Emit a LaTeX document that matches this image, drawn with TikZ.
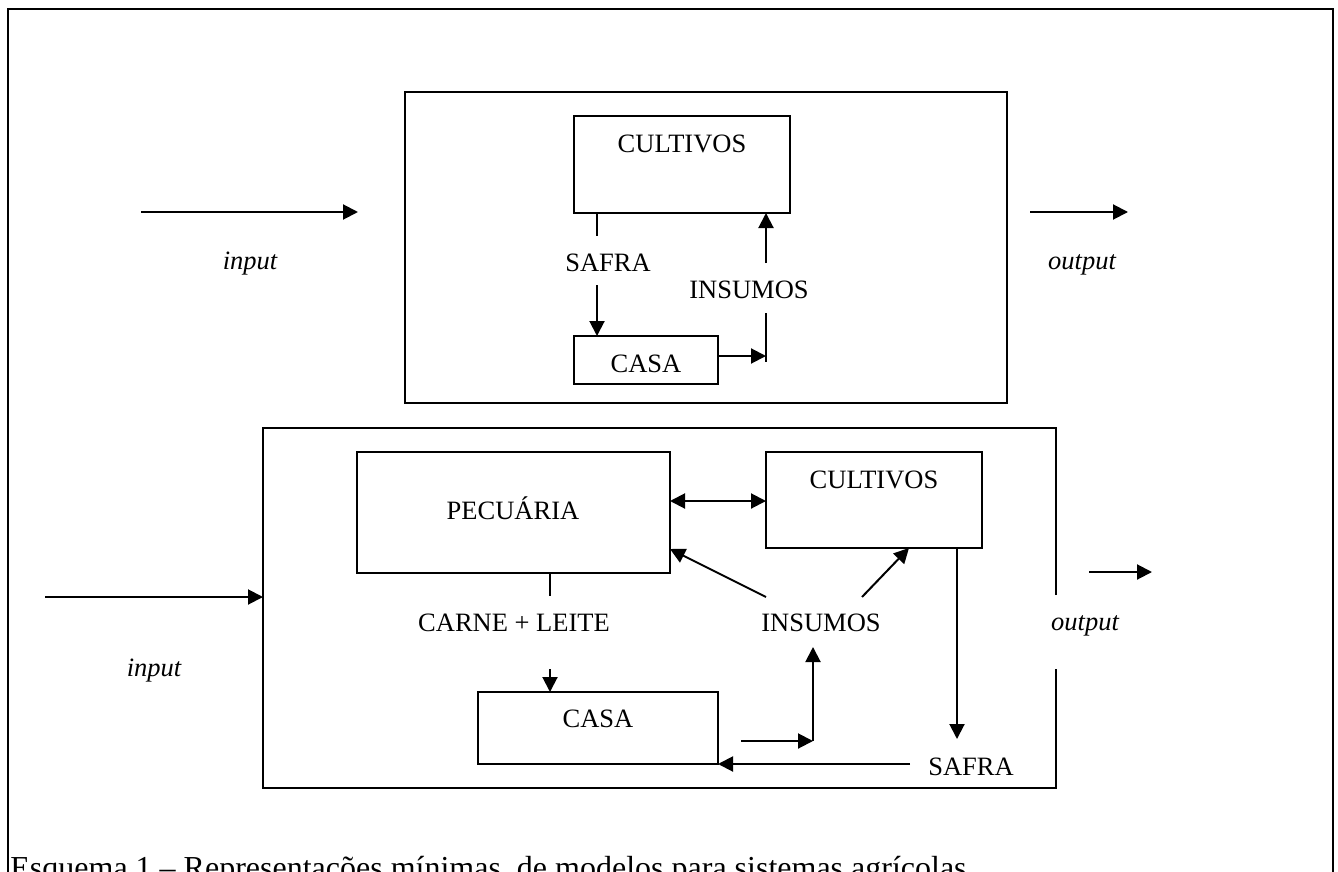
\documentclass[tikz,border=0pt]{standalone}
\usepackage{fontspec}
\setmainfont{Liberation Serif}
\usetikzlibrary{arrows.meta,fit,calc}
\tikzset{
  ln/.style={line width=1pt},
  arr/.style={ln,-{Triangle[length=7.5pt,width=7.5pt]}},
  darr/.style={ln,{Triangle[length=7.5pt,width=7.5pt]}-{Triangle[length=7.5pt,width=7.5pt]}},
  box/.style={draw,line width=1pt,inner sep=0pt,outer sep=0pt},
  lbl/.style={font=\fontsize{13.25}{16}\selectfont, inner sep=0pt, anchor=base},
  ilbl/.style={font=\fontsize{13.25}{16}\selectfont\itshape, inner sep=0pt, anchor=base},
}
\begin{document}
\begin{tikzpicture}[x=0.5pt,y=-0.5pt]
\useasboundingbox (0,0) rectangle (1338,872);
\clip (0,0) rectangle (1338,872);
% outer frame
\draw[line width=1.3pt] (8,890) -- (8,9) -- (1333,9) -- (1333,890);

% ---------- top system ----------
\node[box, fit={(405,92) (1007,403)}] (topbox) {};
\node[box, fit={(574,116) (790,213)}] (tcult) {};
\node[box, fit={(574,336) (718,384)}] (tcasa) {};
\node[lbl] (tcultl) at (682,152) {CULTIVOS};
\node[lbl] (tcasal) at (646,372) {CASA};
\node[lbl] (tsafra) at (608,271) {SAFRA};
\node[lbl] (tins) at (749,298) {INSUMOS};
\node[ilbl] (tinput) at (250,269) {input};
\node[ilbl] (toutput) at (1082,269) {output};

\coordinate (tin1) at (141,212);
\coordinate (tin2) at (358,212);
\coordinate (tout1) at (1030,212);
\coordinate (tout2) at (1128,212);
\coordinate (ts1) at (597,236);
\coordinate (ts2) at (597,285);
\coordinate (tc1) at (766,356);
\coordinate (tv1) at (766,313);
\coordinate (tv2) at (766,362);
\coordinate (tu1) at (766,263);

\draw[arr] (tin1) -- (tin2);
\draw[arr] (tout1) -- (tout2);
\draw[ln] (597,0 |- tcult.south) -- (ts1);
\draw[arr] (ts2) -- (597,0 |- tcasa.north);
\draw[arr] (tcasa.east |- tc1) -- (tc1);
\draw[ln] (tv1) -- (tv2);
\draw[arr] (tu1) -- (766,0 |- tcult.south);

% ---------- bottom system ----------
\node[fit={(263,428) (1056,788)}, inner sep=0pt, outer sep=0pt] (botbox) {};
\draw[ln] (botbox.east |- 0,595) -- (botbox.north east) -- (botbox.north west)
  -- (botbox.south west) -- (botbox.south east) -- (botbox.east |- 0,669);
\node[box, fit={(357,452) (670,573)}] (bpec) {};
\node[box, fit={(766,452) (982,548)}] (bcult) {};
\node[box, fit={(478,692) (718,764)}] (bcasa) {};
\node[lbl] (bpecl) at (513,519) {PECUÁRIA};
\node[lbl] (bcultl) at (874,488) {CULTIVOS};
\node[lbl] (bcasal) at (598,727) {CASA};
\node[lbl] (bcarne) at (514,631) {CARNE + LEITE};
\node[lbl] (bins) at (821,631) {INSUMOS};
\node[lbl] (bsafra) at (971,775) {SAFRA};
\node[ilbl] (binput) at (154,676) {input};
\node[ilbl] (boutput) at (1085,630) {output};

\coordinate (bin1) at (45,597);
\coordinate (bout1) at (1089,572);
\coordinate (bout2) at (1152,572);
\coordinate (bp1) at (550,596);
\coordinate (bp2) at (550,669);
\coordinate (bi1) at (766,597);
\coordinate (bi2) at (862,597);
\coordinate (bh1) at (741,741);
\coordinate (bh2) at (813,741);
\coordinate (bv2) at (813,647);
\coordinate (bs1) at (957,739);
\coordinate (bs2) at (910,764);

\draw[arr] (bin1) -- (botbox.west |- bin1);
\draw[arr] (bout1) -- (bout2);
\draw[darr] (bpec.east |- 0,501) -- (bcult.west |- 0,501);
\draw[ln] (550,0 |- bpec.south) -- (bp1);
\draw[arr] (bp2) -- (550,0 |- bcasa.north);
\draw[arr] (bi1) -- (bpec.east |- 0,549);
\draw[arr] (bi2) -- (909,0 |- bcult.south);
\draw[arr] (bh1) -- (bh2);
\draw[arr] (bh2) -- (bv2);
\draw[arr] (957,0 |- bcult.south) -- (bs1);
\draw[arr] (bs2) -- (bcasa.south east);

% caption
\node[font=\fontsize{16}{19}\selectfont, inner sep=0pt, anchor=base west] (caption) at (10,878)
  {Esquema 1 – Representações mínimas, de modelos para sistemas agrícolas};
\end{tikzpicture}
\end{document}
